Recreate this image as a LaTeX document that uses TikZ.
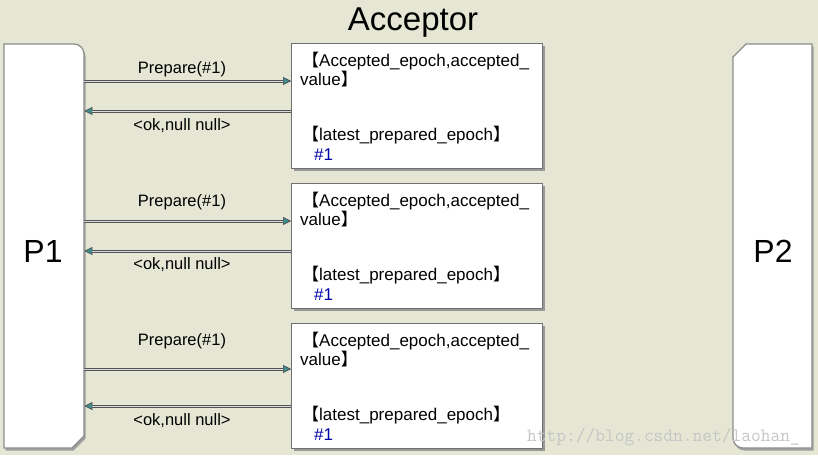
\documentclass[tikz,border=0pt]{standalone}
\usepackage{fontspec}
\setmainfont{Liberation Sans}
\newfontfamily\cjk{Noto Sans CJK SC}
\usetikzlibrary{arrows.meta,shadows}
\definecolor{bg}{HTML}{E6E6D5}
\definecolor{edge}{HTML}{8C8C8C}
\definecolor{tipc}{HTML}{3E8C8C}
\definecolor{numblue}{HTML}{0000A8}
\newcommand\mylb{{\cjk 【}}
\newcommand\myrb{{\cjk 】}}
\begin{document}
\begin{tikzpicture}[x=1pt,y=-1pt,
  lbl/.style={inner sep=0, font=\fontsize{16.5}{18}\selectfont, anchor=base},
  btext/.style={inner sep=0, font=\fontsize{17}{19}\selectfont, anchor=base west},
  abox/.style={draw=edge!80!black, fill=white, line width=0.8pt, minimum width=251pt, minimum height=125pt, inner sep=0, anchor=north west, drop shadow={shadow xshift=2.5pt, shadow yshift=-2.5pt, fill=gray!80, opacity=1}},
  pframe/.style={inner sep=0, minimum width=80pt, minimum height=404pt, anchor=north west},
  pline/.style={draw=edge, line width=1.2pt, fill=white},
  pshadow/.style={fill=gray!75},
  big/.style={inner sep=0, anchor=base, font=\fontsize{33}{36}\selectfont},
  msg/.style={line width=3pt, draw=gray!65!black,
    -{Triangle[length=8pt,width=8pt,fill=tipc,color=gray!55!black,line width=0.6pt]},
    postaction={draw=gray!30, line width=1pt, -, shorten >=8pt}}
]
\fill[bg] (0,0) rectangle (818,455);
\useasboundingbox (0,0) rectangle (818,455);

% P1 shape
\begin{scope}[shift={(1.5,2.5)}]
\fill[pshadow] (4,44) -- (74,44) arc[start angle=90,end angle=0,radius=10pt] -- (84,436) -- (72,448) -- (4,448) -- cycle;
\fill[pshadow] (733,57) -- (746,44) -- (812,44) -- (812,448) -- (743,448) arc[start angle=270,end angle=180,radius=10pt] -- cycle;
\end{scope}
\draw[pline] (4,44) -- (74,44) arc[start angle=90,end angle=0,radius=10pt] -- (84,436) -- (72,448) -- (4,448) -- cycle;
\draw[pline] (733,57) -- (746,44) -- (812,44) -- (812,448) -- (743,448) arc[start angle=270,end angle=180,radius=10pt] -- cycle;
\node[pframe] (P1) at (4,44) {};
\node[pframe] (P2) at (733,44) {};
\node[big, font=\fontsize{32}{36}\selectfont] (P1t) at (43,262) {P1};
\node[big, font=\fontsize{32}{36}\selectfont] (P2t) at (773,262) {P2};

\node[big] (title) at (413,30) {Acceptor};

\foreach \k/\dy/\pa/\oa/\pl/\ol in {1/0/81/111/73/130, 2/140/221/251/206/269, 3/280/369/406/345/425}{
  \node[abox] (A\k) at (291,43+\dy) {};
  \node[btext] (A\k a) at (302,66+\dy) {\mylb Accepted\_epoch,accepted\_};
  \node[btext] (A\k b) at (300,85+\dy) {value\myrb};
  \node[btext] (A\k c) at (302,140+\dy) {\mylb latest\_prepared\_epoch\myrb};
  \node[btext, text=numblue] (A\k d) at (314,160+\dy) {\#1};
  \draw[msg] (P1.east |- 0,\pa) -- (A\k.west |- 0,\pa);
  \draw[msg] (A\k.west |- 0,\oa) -- (P1.east |- 0,\oa);
  \node[lbl] (L\k p) at (182,\pl) {Prepare(\#1)};
  \node[lbl] (L\k o) at (182,\ol) {<ok,null null>};
}

\node[anchor=base west, inner sep=0, font=\ttfamily\fontsize{18.9}{20}\selectfont, text=gray!45] (wm) at (527,441) {http://blog.csdn.net/laohan\_};
\end{tikzpicture}
\end{document}
